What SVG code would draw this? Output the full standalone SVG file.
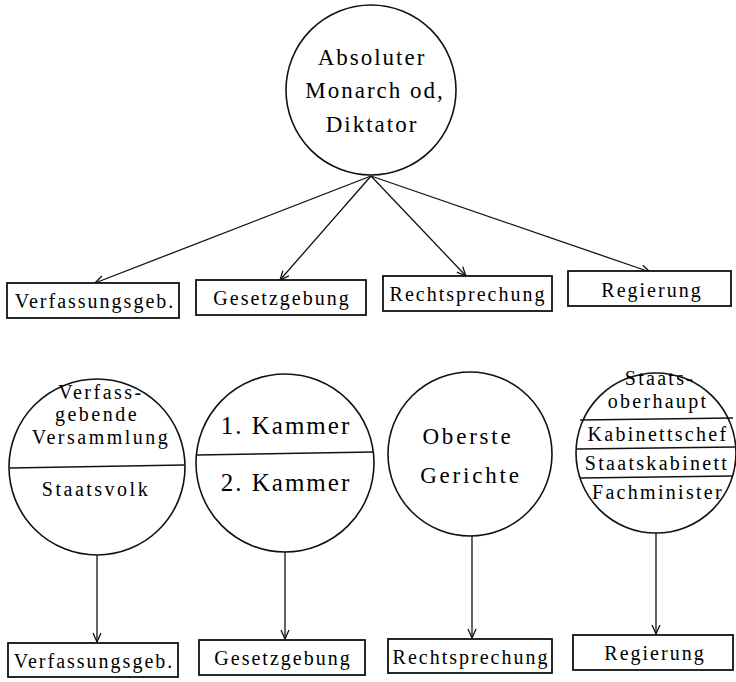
<svg xmlns="http://www.w3.org/2000/svg" width="736" height="682" viewBox="0 0 736 682">
<g id="connectors" stroke="#111" stroke-width="1.3" fill="none">
<line x1="371" y1="176" x2="95" y2="283"/>
<path d="M101.9,276 L95,283 L104.8,283.5"/>
<line x1="371" y1="176" x2="280" y2="280"/>
<path d="M282.9,270.6 L280,280 L288.9,275.9"/>
<line x1="371" y1="176" x2="466" y2="276"/>
<path d="M456.9,272.2 L466,276 L462.7,266.7"/>
<line x1="371" y1="176" x2="650" y2="272"/>
<path d="M640.2,272.9 L650,272 L642.8,265.3"/>
<line x1="97" y1="555" x2="97" y2="642"/>
<path d="M93,633 L97,642 L101,633"/>
<line x1="285" y1="552" x2="285" y2="639"/>
<path d="M281,630 L285,639 L289,630"/>
<line x1="472" y1="536" x2="472" y2="638"/>
<path d="M468,629 L472,638 L476,629"/>
<line x1="656" y1="533" x2="656" y2="634"/>
<path d="M652,625 L656,634 L660,625"/>
</g>
<g id="monarch">
<circle cx="371" cy="90" r="85" fill="none" stroke="#111" stroke-width="1.6"/>
<text font-family="Liberation Serif" font-size="23" letter-spacing="2" text-anchor="middle" x="372" y="65">Absoluter</text>
<text font-family="Liberation Serif" font-size="23" letter-spacing="2" text-anchor="middle" x="375" y="98">Monarch od,</text>
<text font-family="Liberation Serif" font-size="23" letter-spacing="2" text-anchor="middle" x="372" y="132">Diktator</text>
</g>
<g id="box1a"><rect x="7" y="283" width="172" height="35" fill="#fff" stroke="#111" stroke-width="1.8"/><text font-family="Liberation Serif" font-size="20" letter-spacing="2" text-anchor="middle" x="95" y="308">Verfassungsgeb.</text></g>
<g id="box2a"><rect x="196" y="280" width="170" height="35" fill="#fff" stroke="#111" stroke-width="1.8"/><text font-family="Liberation Serif" font-size="20" letter-spacing="2" text-anchor="middle" x="282" y="305">Gesetzgebung</text></g>
<g id="box3a"><rect x="383" y="276" width="169" height="35" fill="#fff" stroke="#111" stroke-width="1.8"/><text font-family="Liberation Serif" font-size="20" letter-spacing="2" text-anchor="middle" x="468" y="301">Rechtsprechung</text></g>
<g id="box4a"><rect x="568" y="271" width="163" height="35" fill="#fff" stroke="#111" stroke-width="1.8"/><text font-family="Liberation Serif" font-size="20" letter-spacing="2" text-anchor="middle" x="652" y="297">Regierung</text></g>
<g id="circ1">
<circle cx="97" cy="467" r="88" fill="none" stroke="#111" stroke-width="1.6"/>
<line x1="10" y1="468" x2="184" y2="465" stroke="#111" stroke-width="1.6"/>
<text font-family="Liberation Serif" font-size="20" letter-spacing="2.5" text-anchor="middle" x="101" y="399">Verfass-</text>
<text font-family="Liberation Serif" font-size="20" letter-spacing="2.5" text-anchor="middle" x="97" y="421">gebende</text>
<text font-family="Liberation Serif" font-size="20" letter-spacing="2.5" text-anchor="middle" x="101" y="444">Versammlung</text>
<text font-family="Liberation Serif" font-size="20" letter-spacing="2.5" text-anchor="middle" x="96" y="496">Staatsvolk</text>
</g>
<g id="circ2">
<circle cx="285" cy="463" r="89" fill="none" stroke="#111" stroke-width="1.6"/>
<line x1="197" y1="455" x2="373" y2="452" stroke="#111" stroke-width="1.6"/>
<text font-family="Liberation Serif" font-size="25" letter-spacing="2" text-anchor="middle" x="286" y="434">1. Kammer</text>
<text font-family="Liberation Serif" font-size="25" letter-spacing="2" text-anchor="middle" x="286" y="491">2. Kammer</text>
</g>
<g id="circ3">
<circle cx="470" cy="454" r="82" fill="none" stroke="#111" stroke-width="1.6"/>
<text font-family="Liberation Serif" font-size="23" letter-spacing="2.8" text-anchor="middle" x="468" y="444">Oberste</text>
<text font-family="Liberation Serif" font-size="23" letter-spacing="2.8" text-anchor="middle" x="471" y="483">Gerichte</text>
</g>
<g id="circ4">
<circle cx="656" cy="453" r="80" fill="none" stroke="#111" stroke-width="1.6"/>
<line x1="580" y1="420" x2="733" y2="418" stroke="#111" stroke-width="1.6"/>
<line x1="577" y1="449" x2="735" y2="447" stroke="#111" stroke-width="1.6"/>
<line x1="580" y1="478" x2="733" y2="476" stroke="#111" stroke-width="1.6"/>
<text font-family="Liberation Serif" font-size="20" letter-spacing="2.3" text-anchor="middle" x="660" y="385">Staats-</text>
<text font-family="Liberation Serif" font-size="20" letter-spacing="2.3" text-anchor="middle" x="658" y="408">oberhaupt</text>
<text font-family="Liberation Serif" font-size="20" letter-spacing="2.3" text-anchor="middle" x="658" y="441">Kabinettschef</text>
<text font-family="Liberation Serif" font-size="20" letter-spacing="2.3" text-anchor="middle" x="657" y="470">Staatskabinett</text>
<text font-family="Liberation Serif" font-size="20" letter-spacing="2.3" text-anchor="middle" x="658" y="499">Fachminister</text>
</g>
<g id="box1b"><rect x="8" y="643" width="170" height="34" fill="#fff" stroke="#111" stroke-width="1.8"/><text font-family="Liberation Serif" font-size="20" letter-spacing="2" text-anchor="middle" x="94" y="668">Verfassungsgeb.</text></g>
<g id="box2b"><rect x="199" y="640" width="166" height="35" fill="#fff" stroke="#111" stroke-width="1.8"/><text font-family="Liberation Serif" font-size="20" letter-spacing="2" text-anchor="middle" x="283" y="665">Gesetzgebung</text></g>
<g id="box3b"><rect x="388" y="639" width="164" height="34" fill="#fff" stroke="#111" stroke-width="1.8"/><text font-family="Liberation Serif" font-size="20" letter-spacing="2" text-anchor="middle" x="471" y="664">Rechtsprechung</text></g>
<g id="box4b"><rect x="573" y="635" width="160" height="35" fill="#fff" stroke="#111" stroke-width="1.8"/><text font-family="Liberation Serif" font-size="20" letter-spacing="2" text-anchor="middle" x="655" y="660">Regierung</text></g>
</svg>
